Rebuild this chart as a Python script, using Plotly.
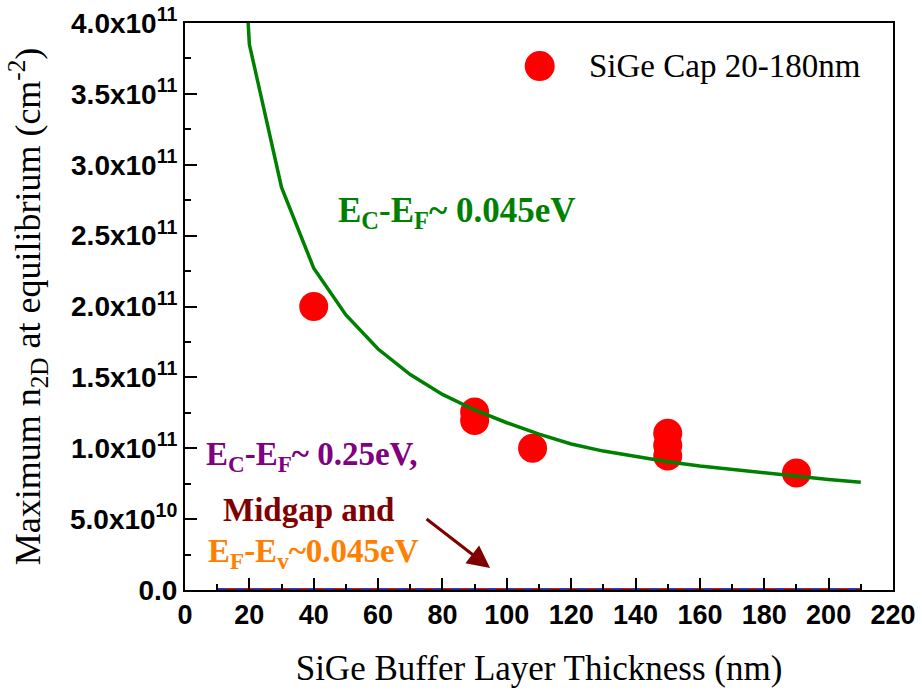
import plotly.graph_objects as go

# ---- data ----
meas_x = [40, 90, 90, 108, 150, 150, 150, 190]
meas_y = [2.0e11, 1.255e11, 1.195e11, 1.0e11, 1.105e11, 1.02e11, 0.945e11, 0.825e11]

curve_x = [10, 20, 30, 40, 50, 60, 70, 80, 90, 100, 110, 120, 130, 140, 150, 160, 170, 180, 190, 200, 210]
curve_y = [7.9e11, 3.85e11, 2.84e11, 2.27e11, 1.94e11, 1.70e11, 1.52e11, 1.38e11, 1.27e11, 1.18e11,
           1.10e11, 1.03e11, 0.98e11, 0.94e11, 0.905e11, 0.875e11, 0.85e11, 0.825e11, 0.80e11, 0.78e11, 0.76e11]

zero_x = [10, 210]
zero_y = [0, 0]

x_ticks = [0, 20, 40, 60, 80, 100, 120, 140, 160, 180, 200, 220]
y_ticks = [0, 0.5e11, 1.0e11, 1.5e11, 2.0e11, 2.5e11, 3.0e11, 3.5e11, 4.0e11]
y_ticktext = ["0.0", "5.0x10<sup>10</sup>", "1.0x10<sup>11</sup>", "1.5x10<sup>11</sup>",
              "2.0x10<sup>11</sup>", "2.5x10<sup>11</sup>", "3.0x10<sup>11</sup>",
              "3.5x10<sup>11</sup>", "4.0x10<sup>11</sup>"]
y_minor = [0.25e11, 0.75e11, 1.25e11, 1.75e11, 2.25e11, 2.75e11, 3.25e11, 3.75e11]

SERIF = "Liberation Serif, Times New Roman, serif"
SANS = "Liberation Sans, Arial, sans-serif"

fig = go.Figure()

# flat lines at zero (0.25 eV, midgap, Ef-Ev)
fig.add_trace(go.Scatter(x=zero_x, y=zero_y, mode="lines", line=dict(color="#FF8000", width=3),
                         showlegend=False, hoverinfo="skip"))
fig.add_trace(go.Scatter(x=zero_x, y=zero_y, mode="lines", line=dict(color="#800080", width=3),
                         showlegend=False, hoverinfo="skip"))
fig.add_trace(go.Scatter(x=zero_x, y=zero_y, mode="lines", line=dict(color="#800000", width=3),
                         showlegend=False, hoverinfo="skip"))
fig.add_trace(go.Scatter(x=zero_x, y=zero_y, mode="lines", line=dict(color="#1030C0", width=3, dash="dash"),
                         showlegend=False, hoverinfo="skip"))

# measured points
fig.add_trace(go.Scatter(x=meas_x, y=meas_y, mode="markers", name="SiGe Cap 20-180nm",
                         marker=dict(color="#FF0000", size=29, line=dict(width=0)),
                         showlegend=False))

# Ec-Ef ~ 0.045 eV curve
fig.add_trace(go.Scatter(x=curve_x, y=curve_y, mode="lines", line=dict(color="#008000", width=3.5),
                         showlegend=False, hoverinfo="skip"))

annotations = [
    dict(x=84.5, y=2.66e11, xref="x", yref="y", showarrow=False,
         text="<b>E<sub>C</sub>-E<sub>F</sub>~ 0.045eV</b>",
         font=dict(family=SERIF, size=35, color="#008000"), xanchor="center", yanchor="middle"),
    dict(x=6.0, y=0.945e11, xref="x", yref="y", showarrow=False,
         text="<b>E<sub>C</sub>-E<sub>F</sub>~ 0.25eV,</b>",
         font=dict(family=SERIF, size=33, color="#800080"), xanchor="left", yanchor="middle"),
    dict(x=38.5, y=0.565e11, xref="x", yref="y", showarrow=False,
         text="<b>Midgap and</b>",
         font=dict(family=SERIF, size=33, color="#800000"), xanchor="center", yanchor="middle"),
    dict(x=6.6, y=0.255e11, xref="x", yref="y", showarrow=False,
         text="<b>E<sub>F</sub>-E<sub>v</sub>~0.045eV</b>",
         font=dict(family=SERIF, size=33, color="#FF8000"), xanchor="left", yanchor="middle"),
    dict(x=94.8, y=0.155e11, ax=74.6, ay=0.509e11, xref="x", yref="y", axref="x", ayref="y",
         text="", showarrow=True, arrowhead=2, arrowsize=1.5, arrowwidth=3, arrowcolor="#800000"),
    # legend text
    dict(x=0.568, y=0.924, xref="paper", yref="paper", showarrow=False,
         text="SiGe Cap 20-180nm", font=dict(family=SERIF, size=33, color="black"),
         xanchor="left", yanchor="middle"),
]

shapes = [
    dict(type="circle", xref="paper", yref="paper", xsizemode="pixel", ysizemode="pixel",
         xanchor=0.501, yanchor=0.924, x0=-15, x1=15, y0=-15, y1=15,
         fillcolor="#FF0000", line=dict(width=0)),
]

fig.update_layout(
    width=922, height=696,
    margin=dict(l=185, r=29, t=23, b=106),
    plot_bgcolor="white", paper_bgcolor="white",
    annotations=annotations, shapes=shapes,
    showlegend=False,
)

fig.update_xaxes(
    range=[0, 220], tickmode="array", tickvals=x_ticks, automargin=False,
    ticks="inside", ticklen=12, tickwidth=2, tickcolor="black",
    minor=dict(dtick=10, ticks="inside", ticklen=6, tickwidth=2, tickcolor="black"),
    showline=True, linewidth=2, linecolor="black", mirror=True,
    showgrid=False, zeroline=False,
    tickfont=dict(family=SANS, size=27, color="black", weight="bold"),
    title=dict(text="SiGe Buffer Layer Thickness (nm)", font=dict(family=SERIF, size=35, color="black"),
               standoff=26),
)
fig.update_yaxes(
    range=[0, 4.0e11], tickmode="array", tickvals=y_ticks, ticktext=y_ticktext, automargin=False,
    ticks="inside", ticklen=12, tickwidth=2, tickcolor="black",
    minor=dict(tickvals=y_minor, ticks="inside", ticklen=6, tickwidth=2, tickcolor="black"),
    showline=True, linewidth=2, linecolor="black", mirror=True,
    showgrid=False, zeroline=False,
    tickfont=dict(family=SANS, size=28, color="black", weight="bold"),
    title=dict(text="Maximum n<sub>2D</sub> at equilibrium (cm<sup>-2</sup>)",
               font=dict(family=SERIF, size=36, color="black"), standoff=18),
)

fig.write_html("out.html")
